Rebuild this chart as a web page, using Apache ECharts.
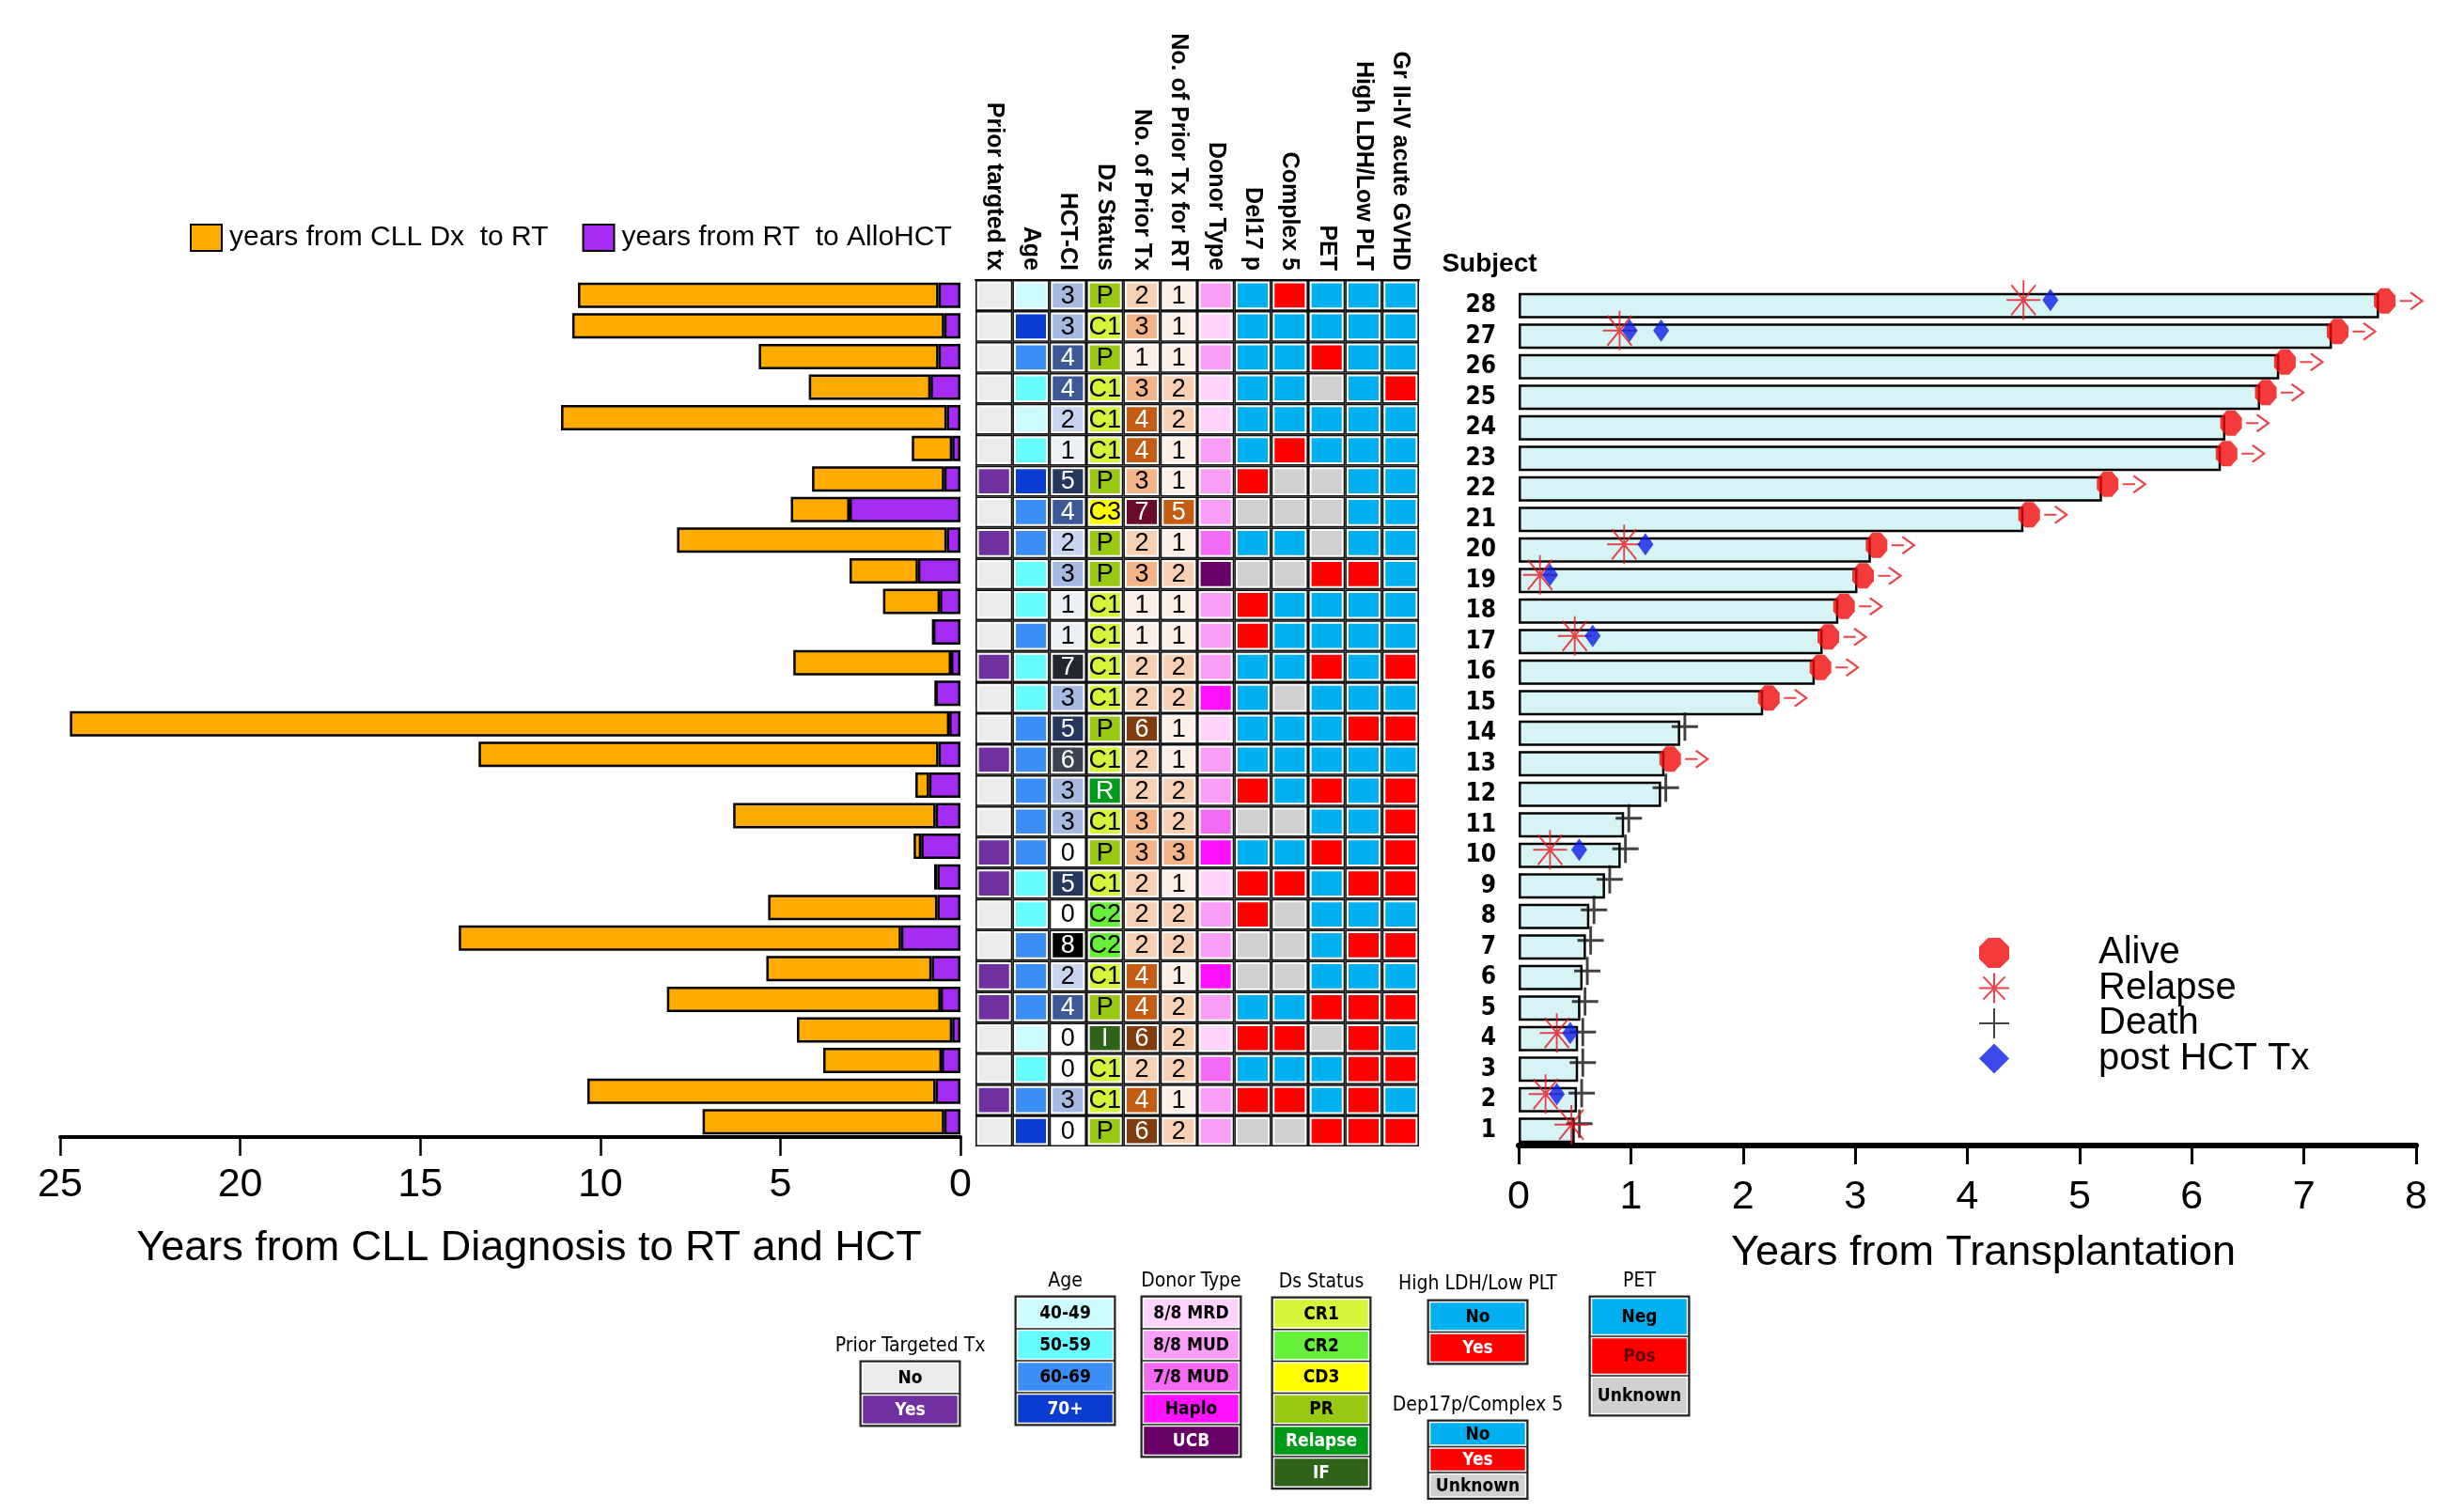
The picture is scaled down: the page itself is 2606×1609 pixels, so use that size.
<!DOCTYPE html>
<html><head><meta charset="utf-8">
<script src="https://cdn.jsdelivr.net/npm/echarts@6/dist/echarts.min.js"></script>
<style>html,body{margin:0;padding:0;background:#fff}#c{width:2606px;height:1609px}</style>
</head><body><div id="c"></div>
<script>
// ---------------- DATA ----------------
const subjects = ['1','2','3','4','5','6','7','8','9','10','11','12','13','14','15','16','17','18','19','20','21','22','23','24','25','26','27','28'];

// left panel: years (stacked) per subject 1..28
const rtToHct = [0.45,0.69,0.52,0.23,0.55,0.80,1.65,0.64,0.64,1.09,0.69,0.87,0.61,0.31,0.69,0.26,0.76,0.57,1.18,0.38,3.08,0.45,0.23,0.38,0.83,0.61,0.45,0.61];
const dxToRt  = [6.71,9.67,3.29,4.31,7.60,4.59,12.28,4.70,0.09,0.21,5.62,0.38,12.77,24.42,0,4.38,0,1.58,1.90,7.49,1.63,3.67,1.12,10.71,3.38,4.99,10.33,10.01];
const leftTicks = [0,5,10,15,20,25];

// characteristics table, subject 1..28
const headers = ['Prior targted tx','Age','HCT-CI','Dz Status','No. of Prior Tx','No. of Prior Tx for RT','Donor Type','Del17 p','Complex 5','PET','High LDH/Low PLT','Gr II-IV acute GVHD'];
const priorTargeted = ['N','Y','N','N','Y','Y','N','N','Y','Y','N','N','Y','N','N','Y','N','N','N','Y','N','Y','N','N','N','N','N','N'];
const ageGroup = ['70+','60-69','50-59','40-49','60-69','60-69','60-69','50-59','50-59','60-69','60-69','60-69','60-69','60-69','50-59','50-59','60-69','50-59','50-59','60-69','60-69','70+','50-59','40-49','50-59','60-69','70+','40-49'];
const hctCI = [0,3,0,0,4,2,8,0,5,0,3,3,6,5,3,7,1,1,3,2,4,5,1,2,4,4,3,3];
const dzStatus = ['P','C1','C1','I','P','C1','C2','C2','C1','P','C1','R','C1','P','C1','C1','C1','C1','P','P','C3','P','C1','C1','C1','P','C1','P'];
const noPriorTx = [6,4,2,6,4,4,2,2,2,3,3,2,2,6,2,2,1,1,3,2,7,3,4,4,3,1,3,2];
const noPriorTxRT = [2,1,2,2,2,1,2,2,1,3,2,2,1,1,2,2,1,1,2,1,5,1,1,2,2,1,1,1];
const donorType = ['MUD','MUD','MUD7','MRD','MUD','Haplo','MUD','MUD','MRD','Haplo','MUD7','MUD','MUD','MRD','Haplo','MUD','MUD','MUD','UCB','MUD7','MUD','MUD','MUD','MRD','MRD','MUD','MRD','MUD'];
const del17p = ['U','Y','N','Y','N','U','U','Y','Y','N','U','Y','N','N','N','N','Y','Y','U','N','U','Y','N','N','N','N','N','N'];
const complex5 = ['U','Y','N','Y','N','U','U','U','Y','N','U','N','N','N','U','N','N','N','U','N','U','U','Y','N','N','N','N','Y'];
const pet = ['Y','N','N','U','Y','N','N','N','N','Y','N','Y','N','N','N','Y','N','N','Y','U','U','U','N','N','U','Y','N','N'];
const highLDH = ['Y','Y','Y','Y','Y','N','Y','N','Y','N','N','N','N','Y','N','N','N','N','Y','N','N','N','N','N','N','N','N','N'];
const gvhd = ['Y','N','Y','N','Y','N','Y','N','Y','Y','Y','Y','N','Y','N','Y','N','N','N','N','N','N','N','N','Y','N','N','N'];

// right panel
const followUp = [0.50,0.52,0.53,0.53,0.55,0.57,0.60,0.63,0.77,0.91,0.94,1.27,1.30,1.44,2.18,2.64,2.71,2.85,3.02,3.14,4.50,5.20,6.26,6.30,6.61,6.78,7.25,7.67];
const outcome = ['D','D','D','D','D','D','D','D','D','D','D','D','A','D','A','A','A','A','A','A','A','A','A','A','A','A','A','A'];
const relapseSubject = ['1','2','4','10','17','19','20','27','28'];
const relapseYears = [0.47,0.24,0.34,0.28,0.50,0.19,0.94,0.90,4.50];
const postTxSubject = ['2','4','10','17','19','20','27','27','28'];
const postTxYears = [0.34,0.46,0.54,0.66,0.28,1.13,0.99,1.27,4.74];
const rightTicks = [0,1,2,3,4,5,6,7,8];

// legend tables
const legPrior = ['No','Yes'];
const legAge = ['40-49','50-59','60-69','70+'];
const legDonor = ['8/8 MRD','8/8 MUD','7/8 MUD','Haplo','UCB'];
const legDs = ['CR1','CR2','CD3','PR','Relapse','IF'];
const legLDH = ['No','Yes'];
const legDel = ['No','Yes','Unknown'];
const legPET = ['Neg','Pos','Unknown'];

// ---------------- STYLES ----------------
const F = '"Liberation Sans", Arial, sans-serif';
const FN = '"Liberation Sans Narrow", "DejaVu Sans Condensed", "Liberation Sans", sans-serif';
const C_PRIOR = {N:'#ebebeb', Y:'#7030a0'};
const C_AGE = {'40-49':'#ccfcff','50-59':'#66fbff','60-69':'#3a8ef6','70+':'#0a3cd2'};
const C_HCT = ['#ffffff','#eceff6','#c8d5f0','#a6b9e3','#3d5896','#26375f','#3d4451','#22262e','#000000'];
const C_DZ = {C1:'#d4f53a', C2:'#66f03a', C3:'#ffff00', P:'#99c912', R:'#009a1a', I:'#2f6418'};
const C_NTX = {1:'#fdeee6',2:'#f8d0b4',3:'#f4b488',4:'#c45c14',5:'#c45c14',6:'#7f3d10',7:'#6a0a2c'};
const C_DONOR = {MRD:'#ffd3fc', MUD:'#fa9ef7', MUD7:'#f56af2', Haplo:'#ff10ff', UCB:'#660066'};
const C_YNU = {N:'#00b0f0', Y:'#ff0000', U:'#d0d0d0'};

const columns = [
  {v: priorTargeted, c: x => C_PRIOR[x]},
  {v: ageGroup, c: x => C_AGE[x]},
  {v: hctCI, c: x => C_HCT[x], t: true, tc: x => x >= 4 ? '#fff' : '#000'},
  {v: dzStatus, c: x => C_DZ[x], t: true, tc: x => (x === 'R' || x === 'I') ? '#fff' : '#000'},
  {v: noPriorTx, c: x => C_NTX[x], t: true, tc: x => x >= 4 ? '#fff' : '#000'},
  {v: noPriorTxRT, c: x => C_NTX[x], t: true, tc: x => x >= 4 ? '#fff' : '#000'},
  {v: donorType, c: x => C_DONOR[x]},
  {v: del17p, c: x => C_YNU[x]},
  {v: complex5, c: x => C_YNU[x]},
  {v: pet, c: x => C_YNU[x]},
  {v: highLDH, c: x => C_YNU[x]},
  {v: gvhd, c: x => C_YNU[x]}
];
const cellData = [];
columns.forEach((col, ci) => col.v.forEach((_, ri) => cellData.push([ci, ri])));

const aliveData = [], deathData = [];
followUp.forEach((y, i) => (outcome[i] === 'A' ? aliveData : deathData).push([y, subjects[i]]));
const relapseData = relapseYears.map((y, i) => [y, relapseSubject[i]]);
const postTxData = postTxYears.map((y, i) => [y, postTxSubject[i]]);

const P_OCT = 'path://M30,0 L70,0 L100,30 L100,70 L70,100 L30,100 L0,70 L0,30 Z';
const P_AST = 'path://M0,50 L100,50 M50,0 L50,100 M14,12 L86,88 M86,12 L14,88';
const P_PLUS = 'path://M0,50 L100,50 M50,0 L50,100';
const P_ARROW = 'path://M0,50 L55,50 M48,8 L100,50 L48,92';

// ---------------- LEGEND TABLES (graphic) ----------------
const graphics = [];
function legTable(title, labels, colors, tcolors, x, y, w, h, titleY) {
  graphics.push({type:'text', x: x + w/2, y: titleY, style:{text:title, fill:'#000', font:'21px ' + FN, align:'center', verticalAlign:'middle'}});
  graphics.push({type:'rect', shape:{x:x-1.5, y:y-1.5, width:w+3, height:h*labels.length+3}, style:{fill:'#222'}});
  labels.forEach((lb, i) => {
    graphics.push({type:'rect', shape:{x:x+1.5, y:y+i*h+1.5, width:w-3, height:h-3}, style:{fill:colors[i], stroke:'#fff', lineWidth:1.5}});
    graphics.push({type:'text', x:x+w/2, y:y+i*h+h/2+1, style:{text:lb, fill:tcolors[i], font:'bold 19px ' + FN, align:'center', verticalAlign:'middle'}});
  });
}
legTable('Prior Targeted Tx', legPrior, [C_PRIOR.N, C_PRIOR.Y], ['#000','#fff'], 916, 1449, 105, 34, 1433);
legTable('Age', legAge, legAge.map(a => C_AGE[a]), ['#000','#000','#000','#fff'], 1081, 1380, 105, 34, 1364);
legTable('Donor Type', legDonor, [C_DONOR.MRD, C_DONOR.MUD, C_DONOR.MUD7, C_DONOR.Haplo, C_DONOR.UCB], ['#000','#000','#000','#000','#fff'], 1215, 1380, 105, 34, 1364);
legTable('Ds Status', legDs, [C_DZ.C1, C_DZ.C2, C_DZ.C3, C_DZ.P, C_DZ.R, C_DZ.I], ['#000','#000','#000','#000','#fff','#fff'], 1354, 1381, 104, 33.8, 1365);
legTable('High LDH/Low PLT', legLDH, [C_YNU.N, C_YNU.Y], ['#000','#fff'], 1520, 1384, 105, 33.5, 1367);
legTable('Dep17p/Complex 5', legDel, [C_YNU.N, C_YNU.Y, C_YNU.U], ['#000','#fff','#000'], 1520, 1512, 105, 27.5, 1496);
legTable('PET', legPET, [C_YNU.N, C_YNU.Y, C_YNU.U], ['#000','#600','#000'], 1692, 1380, 105, 42, 1364);
graphics.push({type:'text', x:1585, y:281, style:{text:'Subject', fill:'#000', font:'bold 28px ' + F, align:'center', verticalAlign:'middle'}});

// ---------------- CHART ----------------
const chart = echarts.init(document.getElementById('c'), null, {renderer:'canvas'});
const axisTxt = {color:'#000', fontSize:43, fontFamily:F};
chart.setOption({
  backgroundColor:'#fff',
  animation:false,
  legend:[
    {data:['years from CLL Dx  to RT','years from RT  to AlloHCT'], left:197, top:233, icon:'rect', itemWidth:33, itemHeight:28, itemGap:36,
     textStyle:{color:'#000', fontSize:30, fontFamily:F, padding:[0,0,0,3]}, selectedMode:false},
    {data:['Alive','Relapse','Death','post HCT Tx'], orient:'vertical', left:2100, top:989, itemWidth:32, itemHeight:32, itemGap:-2.5,
     textStyle:{color:'#000', fontSize:40, fontFamily:F, padding:[0,0,0,90], lineHeight:32}, selectedMode:false}
  ],
  grid:[
    {left:64, top:298, width:958, height:912},
    {left:1038, top:298, width:472, height:922},
    {left:1616, top:309, width:955, height:910}
  ],
  xAxis:[
    {gridIndex:0, type:'value', min:0, max:25, interval:5, inverse:true,
     name:'Years from CLL Diagnosis to RT and HCT', nameLocation:'middle', nameGap:96,
     nameTextStyle:{color:'#000', fontSize:45, fontFamily:F, padding:[0,0,0,40]},
     axisLine:{show:true, lineStyle:{color:'#000', width:4}}, axisTick:{show:true, length:20, lineStyle:{color:'#000', width:2.5}},
     axisLabel:Object.assign({margin:30, formatter: v => leftTicks.includes(v) ? String(v) : ''}, axisTxt), splitLine:{show:false}},
    {gridIndex:1, type:'category', data:headers, position:'top',
     axisLine:{show:true, lineStyle:{color:'#000', width:2}}, axisTick:{show:false},
     axisLabel:{interval:0, rotate:90, margin:10, color:'#000', fontSize:25, fontWeight:'bold', fontFamily:F}},
    {gridIndex:2, type:'value', min:0, max:8, interval:1,
     name:'Years from Transplantation', nameLocation:'middle', nameGap:92,
     nameTextStyle:{color:'#000', fontSize:45, fontFamily:F, padding:[0,0,0,34]},
     axisLine:{show:true, lineStyle:{color:'#000', width:6}}, axisTick:{show:true, length:20, lineStyle:{color:'#000', width:3}},
     axisLabel:Object.assign({margin:34, formatter: v => rightTicks.includes(v) ? String(v) : ''}, axisTxt), splitLine:{show:false}}
  ],
  yAxis:[
    {gridIndex:0, type:'category', data:subjects, show:false},
    {gridIndex:1, type:'category', data:subjects, show:false},
    {gridIndex:2, type:'category', data:subjects, axisLine:{show:false}, axisTick:{show:false},
     axisLabel:{interval:0, margin:24, color:'#000', fontSize:26, fontWeight:'bold', fontFamily:FN}}
  ],
  graphic:graphics,
  series:[
    {type:'bar', name:'years from RT  to AlloHCT', xAxisIndex:0, yAxisIndex:0, stack:'yrs', data:rtToHct, barWidth:27,
     itemStyle:{color:'#a52cf2', borderColor:'#000', borderWidth:2.5}},
    {type:'bar', name:'years from CLL Dx  to RT', xAxisIndex:0, yAxisIndex:0, stack:'yrs', data:dxToRt, barWidth:27,
     itemStyle:{color:'#ffab00', borderColor:'#000', borderWidth:2.5}},
    {type:'custom', name:'table', xAxisIndex:1, yAxisIndex:1, data:cellData, silent:true,
     renderItem:function(params, api){
       const ci = api.value(0), ri = api.value(1);
       const p = api.coord([ci, ri]);
       const s = api.size([1, 1]);
       const w = s[0], h = s[1];
       const col = columns[ci];
       const v = col.v[ri];
       const x0 = p[0] - w/2, y0 = p[1] - h/2;
       const ch = [
         {type:'rect', shape:{x:x0, y:y0, width:w, height:h}, style:{fill:'#111'}},
         {type:'rect', shape:{x:x0+1.6, y:y0+1.6, width:w-3.2, height:h-3.2}, style:{fill:'#fff'}},
         {type:'rect', shape:{x:x0+3.6, y:y0+3.6, width:w-7.2, height:h-7.2}, style:{fill:col.c(v)}}
       ];
       if (col.t) ch.push({type:'text', x:p[0], y:p[1]+1, style:{text:String(v), fill:col.tc(v), font:'27px ' + F, align:'center', verticalAlign:'middle'}});
       return {type:'group', children:ch};
     }},
    {type:'bar', name:'follow-up', xAxisIndex:2, yAxisIndex:2, data:followUp, barWidth:27, silent:true,
     itemStyle:{color:'#d6f4f5', borderColor:'#000', borderWidth:2.5}},
    {type:'scatter', name:'arrow', xAxisIndex:2, yAxisIndex:2, data:aliveData, symbol:P_ARROW, symbolSize:[24,18], symbolOffset:[34,-5],
     itemStyle:{color:'rgba(0,0,0,0)', borderColor:'#e8141a', borderWidth:2.2}, z:5},
    {type:'scatter', name:'Alive', xAxisIndex:2, yAxisIndex:2, data:aliveData, symbol:P_OCT, symbolSize:[23,27], symbolOffset:[6,-5],
     itemStyle:{color:'#f00a0a'}, z:6},
    {type:'scatter', name:'Death', xAxisIndex:2, yAxisIndex:2, data:deathData, symbol:P_PLUS, symbolSize:[28,30], symbolOffset:[5,-7],
     itemStyle:{color:'rgba(0,0,0,0)', borderColor:'#111', borderWidth:3}, z:6},
    {type:'scatter', name:'Relapse', xAxisIndex:2, yAxisIndex:2, data:relapseData, symbol:P_AST, symbolSize:[36,42], symbolOffset:[0,-6],
     itemStyle:{color:'rgba(0,0,0,0)', borderColor:'#e8141a', borderWidth:2}, z:7},
    {type:'scatter', name:'post HCT Tx', xAxisIndex:2, yAxisIndex:2, data:postTxData, symbol:'diamond', symbolSize:[17,24], symbolOffset:[0,-6],
     itemStyle:{color:'#0a1ee6'}, z:8}
  ]
});
</script></body></html>
